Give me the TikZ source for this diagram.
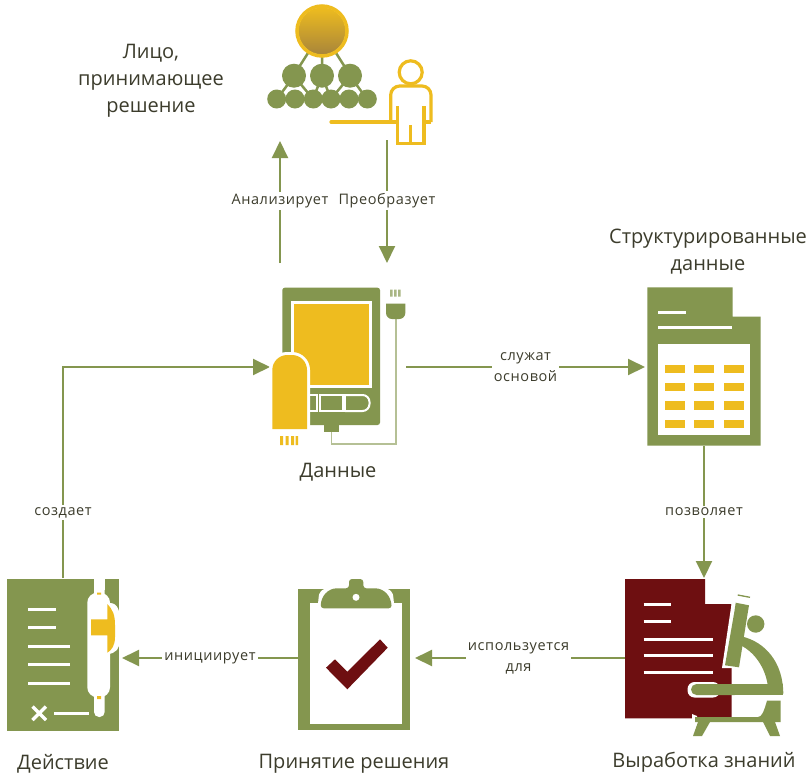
\documentclass[tikz,border=0pt]{standalone}
\usepackage{fontspec}
\setmainfont{Open Sans}
\newfontfamily\labfont{Open Sans}[LetterSpace=4]
\usetikzlibrary{arrows.meta}
\definecolor{olive}{HTML}{84964F}
\definecolor{gold}{HTML}{EEBC1F}
\definecolor{darkred}{HTML}{6E0F11}
\definecolor{goldd}{HTML}{A8853A}
\definecolor{ink}{HTML}{3C3C2C}
\tikzset{
 conn/.style={olive,line width=2pt,-{Triangle[length=17pt,width=16pt]}},
 title/.style={text=ink,font=\fontsize{20}{27}\selectfont,align=center,inner sep=0pt},
 lab/.style={text=ink,fill=white,font=\labfont\fontsize{14.5}{21}\selectfont,align=center,inner sep=2pt},
 white rule/.style={white,line width=3pt},
 gline/.style={gold,line width=3.2pt},
}
\begin{document}
\begin{tikzpicture}[x=1pt,y=-1pt]
\useasboundingbox (0,0) rectangle (808,774);
\fill[white] (0,0) rectangle (808,774);
% anchors
\coordinate (dmBottom) at (280,263);
\coordinate (dmTop) at (280,141);
\coordinate (trTop) at (387,140);
\coordinate (trBottom) at (387,263);
\coordinate (dataRight) at (406,367);
\coordinate (dataLeft) at (270,367);
\coordinate (structLeft) at (645,367);
\coordinate (structBottom) at (704,446);
\coordinate (knowTop) at (704,578);
\coordinate (knowLeft) at (625,658);
\coordinate (clipRight) at (415,658);
\coordinate (clipLeft) at (298,658);
\coordinate (actRight) at (122,658);
\coordinate (actTop) at (63,578);
\coordinate (corner) at (63,367);
% connectors
\draw[conn] (dmBottom) -- (dmTop) node[lab,pos=.51] {Анализирует};
\draw[conn] (trTop) -- (trBottom) node[lab,pos=.49] {Преобразует};
\draw[conn] (dataRight) -- (structLeft) node[lab,pos=.5] {служат\\основой};
\draw[conn] (structBottom) -- (knowTop) node[lab,pos=.5] {позволяет};
\draw[conn] (knowLeft) -- (clipRight) node[lab,pos=.507] {используется\\для};
\draw[conn] (clipLeft) -- (actRight) node[lab,pos=.5] {инициирует};
\draw[conn] (actTop) -- (corner) node[lab,pos=.31] {создает} -- (dataLeft);
% decision-maker
\draw[olive,line width=2.5pt] (322,31) -- (294,75) (322,31) -- (322,75) (322,31) -- (350,75);
\draw[olive,line width=2.5pt] (294,76) -- (277,99) (294,76) -- (313,99) (322,76) -- (313,99) (322,76) -- (331,99) (350,76) -- (331,99) (350,76) -- (367,99);
\foreach \x in {294,322,350} \fill[olive] (\x,75.7) circle (12);
\foreach \x in {276.7,295,313.3,331,349,367.3} \fill[olive] (\x,99) circle (9.5);
\shade[top color=gold,bottom color=goldd] (322,31) circle (23.5);
\draw[gold,line width=3.5pt] (322,31) circle (25);
\draw[gline] (410.7,72.3) circle (11.5);
\draw[gline,rounded corners=9pt] (390.7,122) -- (390.7,86) -- (431,86) -- (431,122);
\draw[gline] (431,122) -- (423,122);
\draw[gline] (397.3,106) -- (397.3,143.3) -- (424,143.3) -- (424,106);
\draw[gline] (410.7,125) -- (410.7,143);
\draw[gline,line cap=round] (331,122) -- (397,122);
% data device
\fill[olive,rounded corners=2.5pt] (282.3,287.7) rectangle (380,425);
\fill[white] (290.7,301) rectangle (372,388);
\fill[gold] (294,304.3) rectangle (369,385.3);
\draw[white,line width=2pt] (309,395) rectangle (317,411);
\draw[white,line width=2pt] (319.5,395) rectangle (342.5,411);
\draw[white,line width=2pt,rounded corners=7pt] (345,395) -- (369.5,395) -- (369.5,411) -- (345,411);
\draw[white,line width=2pt] (345,394) -- (345,412);
\fill[olive] (324,425) -- (339,425) -- (339,432) -- (324,432) -- cycle;
\draw[olive!60!white,line width=1.2pt] (331.7,432) -- (331.7,444) -- (396,444) -- (396,318);
\fill[olive] (386,303.5) -- (405.3,303.5) [rounded corners=6pt] -- (405.3,319) -- (386,319) [sharp corners] -- cycle;
\fill[olive!70!white] (390,289.5) rectangle (392.5,296.5) (394,289.5) rectangle (396.5,296.5) (398,289.5) rectangle (400.5,296.5);
\fill[white,rounded corners=18pt] (269,470) -- (269,352) -- (310,352) -- (310,470) -- cycle;
\fill[white] (265,432) rectangle (315,470);
\fill[gold] (272.3,429) [rounded corners=15pt] -- (272.3,355) -- (307,355) [sharp corners] -- (307,429) -- cycle;
\fill[gold] (280,436) rectangle (283,445) (285.5,436) rectangle (288.5,445) (291,436) rectangle (294,445) (295.5,436) rectangle (298,445);
% structured data
\fill[olive] (647.3,287.3) -- (732.7,287.3) -- (732.7,316.7) -- (760.7,316.7) -- (760.7,445.7) -- (647.3,445.7) -- cycle;
\draw[white rule] (658.3,312) -- (685.7,312) (658.3,327.3) -- (732,327.3);
\fill[white] (658.3,344.3) rectangle (750,435);
\foreach \x in {664.7,694,723.7} \foreach \y in {364.7,383,401.3,419.7} \fill[gold] (\x,\y) rectangle ++(20,8.3);
% action
\fill[olive] (7,579) rectangle (119,731);
\draw[white rule] (28.3,609.3) -- (56,609.3) (28.3,627.7) -- (56,627.7) (28.3,646.3) -- (70,646.3) (28.3,664.7) -- (70,664.7) (28.3,683.3) -- (70,683.3) (54,713.3) -- (89.3,713.3);
\draw[white,line width=3.5pt] (32.5,706.5) -- (46,720) (46,706.5) -- (32.5,720);
\fill[white,rounded corners=5pt] (94,575) rectangle (104.7,717);
\fill[white] (94,579) rectangle (104.7,590);
\fill[white,rounded corners=10pt] (87.3,592.7) rectangle (110,697.3);
\fill[white] (107,603) -- (110,603) .. controls (118,603) and (120,612) .. (120,620) -- (120,640) .. controls (120,648) and (116,654) .. (107,654) -- cycle;
\fill[gold] (107.3,604) .. controls (113,610) and (115,615) .. (115,625) -- (115,637) .. controls (115,645) and (112,650) .. (107.3,652.7) -- (107.3,635.3) -- (91,635.3) -- (91,619.3) -- (107.3,619.3) -- cycle;
\fill[gold] (97,592.7) rectangle (101,594.5) (97,696) rectangle (101,699);
% decision
\fill[olive] (298.3,589.3) rectangle (410,730);
\fill[white] (310,602.7) rectangle (401.7,724);
\fill[white,rounded corners=6pt] (318,610) -- (318,600) .. controls (320,590) and (328,586) .. (345,586) -- (367,586) .. controls (384,586) and (392,590) .. (394,600) -- (394,610) -- cycle;
\fill[olive,rounded corners=3pt] (320.7,608.3) .. controls (321,596) and (328,588.3) .. (340,588.3) -- (349,588.3) -- (349,579) -- (363.3,579) -- (363.3,588.3) -- (372,588.3) .. controls (384,588.3) and (391,596) .. (391.7,608.3) -- cycle;
\fill[white] (356,597.3) circle (3.5);
\fill[darkred] (326,667.7) -- (335,659.3) -- (347.3,671.7) -- (380,639.3) -- (387.7,647.7) -- (347.3,689.3) -- cycle;
% knowledge
\fill[darkred] (625,579) -- (705,579) -- (705,604) -- (731.7,604) -- (731.7,718.3) -- (625,718.3) -- cycle;
\draw[white rule] (643.7,604.7) -- (671,604.7) (643.7,621.7) -- (671,621.7) (643.7,639) -- (712.7,639) (643.7,655.7) -- (712.7,655.7) (643.7,672.7) -- (712.7,672.7);
\fill[white] (733,594) -- (751,599) -- (739,668) -- (722,668) -- cycle;
\fill[olive] (735.7,602.7) -- (749,605.3) -- (747.7,613) -- (739,667.3) -- (725,665.3) -- (734.3,612) -- cycle;
\draw[olive,line width=1.3pt] (737.7,595) -- (750,597.3);
\fill[olive] (755.7,624) circle (8.7);
\fill[olive] (742,636.5) .. controls (765,642) and (783,662) .. (783.3,693.5) -- (768.5,693.5) .. controls (768,670) and (755,652) .. (740,645) -- cycle;
\fill[white,rounded corners=7pt] (687.5,682) rectangle (720,697.5);
\fill[olive,rounded corners=5.5pt] (691,684) rectangle (740,695);
\fill[olive] (700,684) rectangle (783.3,695);
\fill[white] (692,714) -- (697,716) -- (697,722) -- (692,722) -- cycle;
\fill[olive] (695,722) -- (695,717) -- (758,717) .. controls (762,717) and (764,711) .. (767,700.7) -- (780.7,700.7) -- (780.7,717) -- (780.7,722) -- cycle;
\fill[olive] (698,722) -- (710,722) -- (702,736) -- (693,736) -- cycle (763,722) -- (775,722) -- (780,736) -- (770,736) -- cycle;
% titles
\node[title] (tDm) at (151,81) {Лицо,\\принимающее\\решение};
\node[title] (tData) at (338,472) {Данные};
\node[title] (tStruct) at (708,252) {Структурированные\\данные};
\node[title] (tAct) at (63,764) {Действие};
\node[title] (tDec) at (354,764) {Принятие решения};
\node[title] (tKnow) at (704,762) {Выработка знаний};
\end{tikzpicture}
\end{document}
